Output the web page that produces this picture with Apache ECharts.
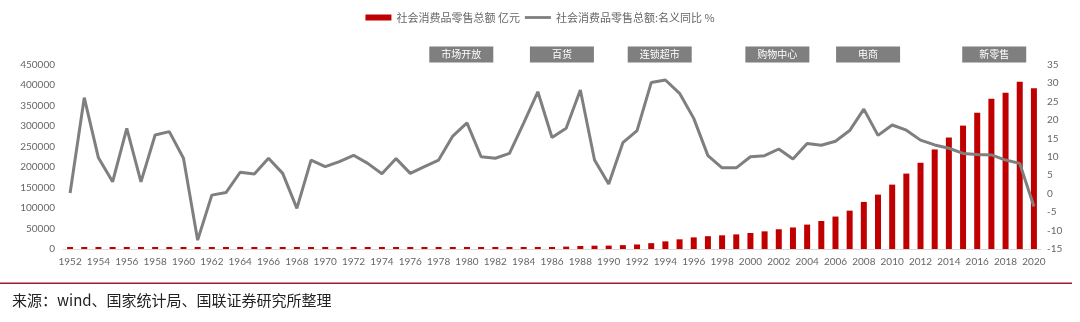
<!DOCTYPE html>
<html><head><meta charset="utf-8">
<script src="https://cdn.jsdelivr.net/npm/echarts@6/dist/echarts.min.js"></script>
<style>html,body{margin:0;padding:0;background:#fff}#c{width:1080px;height:322px}</style>
</head><body><div id="c"></div>
<script>
const years = [];
for (let y = 1952; y <= 2020; y++) years.push(String(y));

const retailSales = [277,348,381,392,461,474,548,638,697,607,
  604,605,638,670,732,770,737,801,859,929,
  1023,1107,1164,1271,1339,1433,1559,1800,2140,2350,
  2570,2849,3376,4305,4950,5820,7440,8101,8300,9416,
  10994,14270,18623,23614,28360,31253,33378,35648,39106,43055,
  48136,52516,59501,68353,79145,93572,114830,132678,156998,183919,
  210307,242843,271896,300931,332316,366262,380987,408017,391981];

const yoyGrowth = [0.2,26.0,9.7,3.2,17.7,3.2,15.9,16.8,9.6,-12.6,
  -0.4,0.3,5.8,5.3,9.6,5.5,-4.0,9.1,7.3,8.7,
  10.4,8.2,5.4,9.5,5.5,7.3,9.1,15.6,19.2,10.0,
  9.6,10.9,19.1,27.6,15.2,17.7,28.1,9.1,2.6,13.8,
  17.1,30.1,30.8,27.2,20.4,10.3,7.0,7.0,10.0,10.3,
  12.1,9.4,13.6,13.1,14.2,17.1,22.9,15.8,18.6,17.2,
  14.5,13.2,12.3,10.9,10.6,10.5,9.1,8.2,-3.5];

const seriesNames = ['社会消费品零售总额 亿元', '社会消费品零售总额:名义同比 %'];
const eraLabels = ['市场开放', '百货', '连锁超市', '购物中心', '电商', '新零售'];
const eraYears = [1979.6, 1986.7, 1993.6, 2001.9, 2008.3, 2017.2];
const sourceText = '来源：wind、国家统计局、国联证券研究所整理';

const chart = echarts.init(document.getElementById('c'), null, {renderer: 'canvas'});
const axisFont = {color: '#666', fontSize: 10, fontFamily: 'Lato'};
chart.setOption({
  animation: false,
  backgroundColor: '#fff',
  legend: {
    top: 7, left: 'center',
    itemWidth: 26, itemHeight: 6, itemGap: 5,
    textStyle: {color: '#666', fontSize: 11, fontFamily: 'Noto Sans CJK SC'},
    data: [
      {name: seriesNames[0], icon: 'rect'},
      {name: seriesNames[1], icon: 'path://M0 0H28V3H0Z'}
    ]
  },
  grid: {left: 63, right: 39, top: 64.5, bottom: 73},
  xAxis: {
    type: 'category', data: years, boundaryGap: true,
    axisLine: {lineStyle: {color: '#D9D9D9'}},
    axisTick: {show: false},
    axisLabel: Object.assign({interval: 1, margin: 8}, axisFont)
  },
  yAxis: [
    {type: 'value', min: 0, max: 450000, interval: 50000,
     splitLine: {show: false}, axisLine: {show: false}, axisTick: {show: false},
     axisLabel: Object.assign({margin: 8, formatter: v => String(v)}, axisFont)},
    {type: 'value', min: -15, max: 35, interval: 5,
     splitLine: {show: false}, axisLine: {show: false}, axisTick: {show: false},
     axisLabel: Object.assign({margin: 6, formatter: v => String(v)}, axisFont)}
  ],
  series: [
    {name: seriesNames[0], type: 'bar', data: retailSales, yAxisIndex: 0,
     barWidth: 6, barMinHeight: 2, itemStyle: {color: '#C00000'}},
    {name: seriesNames[1], type: 'line', data: yoyGrowth, yAxisIndex: 1,
     symbol: 'none', lineStyle: {color: '#7F7F7F', width: 3}, itemStyle: {color: '#7F7F7F'}, z: 3}
  ]
});

const p0 = chart.convertToPixel({xAxisIndex: 0}, years[0]);
const p1 = chart.convertToPixel({xAxisIndex: 0}, years[years.length - 1]);
const span = Number(years[years.length - 1]) - Number(years[0]);
const graphics = eraLabels.map((t, i) => {
  const cx = p0 + (eraYears[i] - Number(years[0])) / span * (p1 - p0);
  return {
    type: 'group', left: cx - 32, top: 46.5,
    children: [
      {type: 'rect', shape: {x: 0, y: 0, width: 64, height: 16}, style: {fill: '#7F7F7F'}},
      {type: 'text', x: 32, y: 8, style: {text: t, fill: '#fff', fontSize: 10, fontFamily: 'Noto Sans CJK SC', align: 'center', verticalAlign: 'middle'}}
    ]
  };
});
graphics.push({type: 'rect', left: 0, top: 282.5, shape: {x: 0, y: 0, width: 1072, height: 1.5}, style: {fill: '#9E1B32'}});
graphics.push({type: 'text', left: 12, top: 293, style: {text: sourceText, fill: '#222', fontSize: 15, fontFamily: 'Noto Sans CJK SC'}});
chart.setOption({graphic: graphics});
</script>
</body></html>
